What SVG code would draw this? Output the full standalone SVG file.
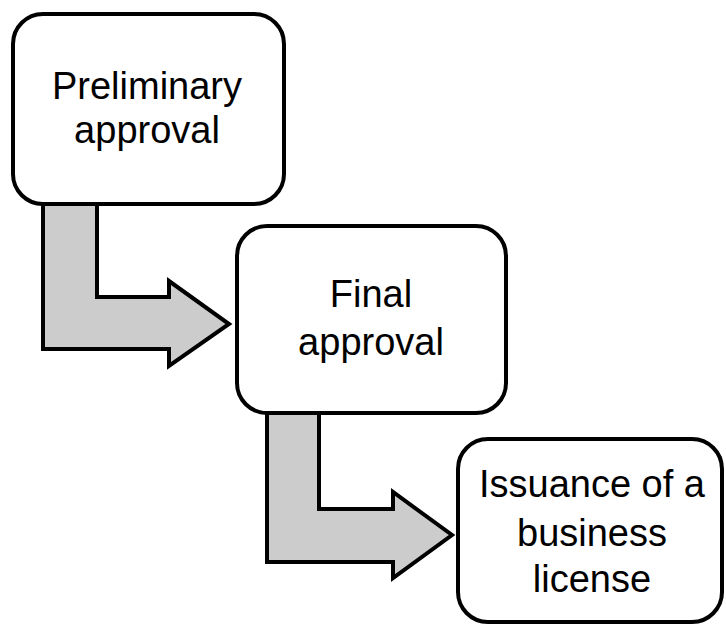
<svg xmlns="http://www.w3.org/2000/svg" width="726" height="626" viewBox="0 0 726 626">
<style>
.box{fill:#fff;stroke:#000;stroke-width:4}
.arr{fill:#cccccc;stroke:#000;stroke-width:4;stroke-linejoin:miter}
.t{font-family:"Liberation Sans",Arial,sans-serif;font-size:38px;fill:#000;text-anchor:middle}
</style>
<rect width="726" height="626" fill="#fff"/>
<g id="connectors">
<polygon class="arr" points="43,203 97,203 97,297 169,297 169,281 229,324 169,366 169,349 43,349"/>
<polygon class="arr" points="267,412 319,412 319,509 393,509 393,492 452,535 393,578 393,562 267,562"/>
</g>
<g id="node1">
<rect class="box" x="13" y="14" width="271" height="190" rx="30"/>
<text class="t" x="147" y="99">Preliminary</text>
<text class="t" x="147" y="143">approval</text>
</g>
<g id="node2">
<rect class="box" x="237" y="226" width="269" height="187" rx="30"/>
<text class="t" x="371" y="307">Final</text>
<text class="t" x="371" y="355">approval</text>
</g>
<g id="node3">
<rect class="box" x="458" y="439" width="264" height="183" rx="30"/>
<text class="t" x="592" y="497">Issuance of a</text>
<text class="t" x="592" y="546">business</text>
<text class="t" x="592" y="592">license</text>
</g>
</svg>
